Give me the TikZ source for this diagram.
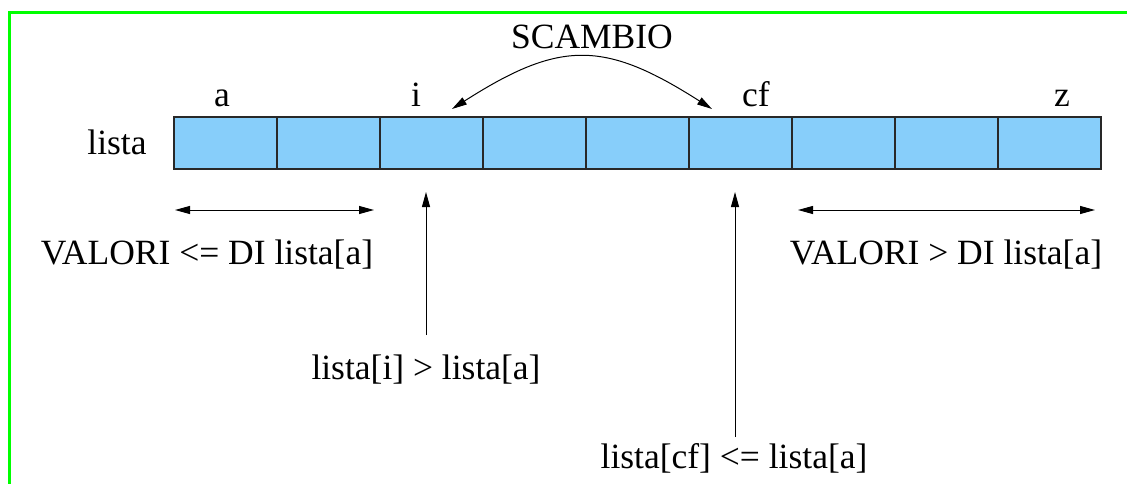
\documentclass[tikz,border=0pt]{standalone}
\usepackage{fontspec}
\setmainfont{Liberation Serif}
\usetikzlibrary{arrows.meta}
\definecolor{cellblue}{RGB}{135,206,250}
\definecolor{cellline}{RGB}{40,40,40}
\definecolor{framegreen}{RGB}{0,255,0}
\begin{document}
\begin{tikzpicture}[x=1pt,y=-1pt,
  cell/.style={draw=cellline,fill=cellblue,line width=1.3pt,minimum width=103pt,minimum height=52pt,inner sep=0pt,outer sep=0pt,anchor=north west},
  lbl/.style={font=\fontsize{35.5}{42}\selectfont,inner sep=0pt,anchor=base},
  tip/.style={-{Triangle[length=15pt,width=8pt]}},
  twotip/.style={{Triangle[length=15pt,width=8pt]}-{Triangle[length=15pt,width=8pt]}},
  conn/.style={draw=black,line width=1pt}]
\useasboundingbox (0,0) rectangle (1127,484);
% frame
\draw[framegreen,line width=3pt] (9.5,490) -- (9.5,13) -- (1135,13);
% the array cells
\foreach \k in {0,...,8}{
  \node[cell] (c\k) at ({174+103*\k},117) {};
}
% labels
\node[lbl] (lista) at (117,154) {lista};
\node[lbl] (la) at (222,107) {a};
\node[lbl] (li) at (416,107) {i};
\node[lbl] (lcf) at (756,107) {cf};
\node[lbl] (lz) at (1062,107) {z};
\node[lbl] (scambio) at (592,49) {SCAMBIO};
\node[lbl] (vle) at (207,264) {VALORI <= DI lista[a]};
\node[lbl] (vgt) at (946,264) {VALORI > DI lista[a]};
\node[lbl] (ti) at (426,379) {lista[i] > lista[a]};
\node[lbl] (tcf) at (734,468) {lista[cf] <= lista[a]};
% connector end points
\coordinate (sL) at (452,109);
\coordinate (sR) at (712,109);
\coordinate (lA) at (175,210);
\coordinate (lB) at (374,210);
\coordinate (rA) at (798,210);
\coordinate (rB) at (1095,210);
\coordinate (iTop) at (426,192);
\coordinate (iBot) at (426,335);
\coordinate (cfTop) at (735,192);
\coordinate (cfBot) at (735,437);
% swap arc
\draw[conn,twotip] (sL) .. controls (560,40) and (604,40) .. (sR);
% ranges
\draw[conn,twotip] (lA) -- (lB);
\draw[conn,twotip] (rA) -- (rB);
% pointers
\draw[conn,tip] (iBot) -- (iTop);
\draw[conn,tip] (cfBot) -- (cfTop);
\end{tikzpicture}
\end{document}
